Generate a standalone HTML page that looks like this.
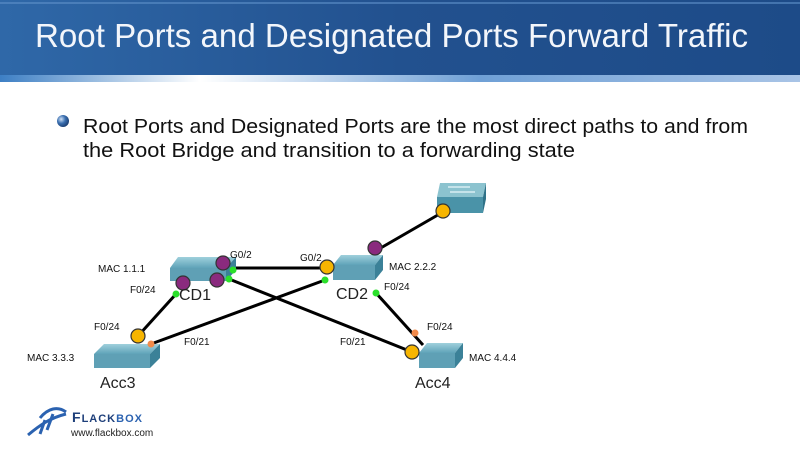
<!DOCTYPE html>
<html><head><meta charset="utf-8"><style>
html,body{margin:0;padding:0;background:#fff;}
svg{display:block;}
</style></head><body>
<svg width="800" height="450" viewBox="0 0 800 450" xmlns="http://www.w3.org/2000/svg" font-family="Liberation Sans, sans-serif">
<defs>
<linearGradient id="hdr" x1="0" y1="0" x2="1" y2="0">
<stop offset="0" stop-color="#2f68a8"/><stop offset="0.5" stop-color="#22518f"/><stop offset="1" stop-color="#1d4b88"/>
</linearGradient>
<linearGradient id="band" x1="0" y1="0" x2="1" y2="0">
<stop offset="0" stop-color="#3d7fc4"/><stop offset="0.25" stop-color="#ffffff"/><stop offset="0.6" stop-color="#6fa0d6"/><stop offset="1" stop-color="#a9c4e6"/>
</linearGradient>
<radialGradient id="bul" cx="0.35" cy="0.35" r="0.7"><stop offset="0" stop-color="#cfe0f5"/><stop offset="0.5" stop-color="#3a6fb0"/><stop offset="1" stop-color="#1b3d70"/></radialGradient>
<linearGradient id="sw" x1="0" y1="0" x2="0" y2="1"><stop offset="0" stop-color="#9fd0dc"/><stop offset="1" stop-color="#5fa3b8"/></linearGradient>
</defs>
<rect x="0" y="0" width="800" height="78" fill="url(#hdr)"/>
<rect x="0" y="2" width="800" height="2" fill="#5e8fc8" opacity="0.6"/>
<rect x="0" y="75" width="800" height="7" fill="url(#band)"/>
<text x="35" y="47" font-size="33" fill="#f3f6fb" textLength="713" lengthAdjust="spacingAndGlyphs">Root Ports and Designated Ports Forward Traffic</text>

<circle cx="63" cy="121" r="6" fill="url(#bul)"/>
<text x="83" y="133" font-size="20" fill="#111" textLength="665" lengthAdjust="spacingAndGlyphs">Root Ports and Designated Ports are the most direct paths to and from</text>
<text x="83" y="157" font-size="20" fill="#111" textLength="492" lengthAdjust="spacingAndGlyphs">the Root Bridge and transition to a forwarding state</text>

<g stroke="#000" stroke-width="3" fill="none">
<line x1="443" y1="212" x2="372" y2="253"/>
<line x1="233" y1="268" x2="327" y2="268"/>
<line x1="229" y1="279" x2="412" y2="352"/>
<line x1="325" y1="280" x2="151" y2="344"/>
<line x1="176" y1="294" x2="138" y2="336"/>
<line x1="376" y1="293" x2="423" y2="345"/>
</g>

<g>
<polygon points="440,183 486,183 483,197 437,197" fill="#8cc3cf"/>
<polygon points="437,197 483,197 483,213 437,213" fill="#4a93a8"/>
<polygon points="483,197 486,183 486,199 483,213" fill="#2f7288"/>
<g stroke="#d8eef3" stroke-width="1.5"><line x1="448" y1="187" x2="470" y2="187"/><line x1="450" y1="192" x2="475" y2="192"/></g>

<polygon points="178,257 236,257 226,268 170,268" fill="url(#sw)"/>
<polygon points="170,268 226,268 226,281 170,281" fill="#5fa0b5"/>
<polygon points="226,268 236,257 236,270 226,281" fill="#3b8198"/>

<polygon points="341,255 383,255 375,265 333,265" fill="url(#sw)"/>
<polygon points="333,265 375,265 375,280 333,280" fill="#5fa0b5"/>
<polygon points="375,265 383,255 383,270 375,280" fill="#3b8198"/>

<polygon points="104,344 160,344 150,354 94,354" fill="url(#sw)"/>
<polygon points="94,354 150,354 150,368 94,368" fill="#5fa0b5"/>
<polygon points="150,354 160,344 160,358 150,368" fill="#3b8198"/>

<polygon points="427,343 463,343 455,353 419,353" fill="url(#sw)"/>
<polygon points="419,353 455,353 455,368 419,368" fill="#5fa0b5"/>
<polygon points="455,353 463,343 463,358 455,368" fill="#3b8198"/>
</g>

<g fill="#2be02b">
<circle cx="233" cy="270" r="3.5"/><circle cx="229" cy="279" r="3.5"/><circle cx="176" cy="294" r="3.5"/>
<circle cx="325" cy="280" r="3.5"/><circle cx="376" cy="293" r="3.5"/>
</g>
<g fill="#f28a4a"><circle cx="151" cy="344" r="3.5"/><circle cx="415" cy="333" r="3.5"/></g>
<g fill="#f7b500" stroke="#333" stroke-width="1.2">
<circle cx="443" cy="211" r="7"/><circle cx="327" cy="267" r="7"/><circle cx="138" cy="336" r="7"/><circle cx="412" cy="352" r="7"/>
</g>
<g fill="#8a2a7e" stroke="#333" stroke-width="1.2">
<circle cx="375" cy="248" r="7"/><circle cx="223" cy="263" r="7"/><circle cx="217" cy="280" r="7"/><circle cx="183" cy="283" r="7"/>
</g>

<g font-size="10" fill="#111">
<text x="98" y="272">MAC 1.1.1</text>
<text x="130" y="293">F0/24</text>
<text x="230" y="258">G0/2</text>
<text x="300" y="261">G0/2</text>
<text x="389" y="270">MAC 2.2.2</text>
<text x="384" y="290">F0/24</text>
<text x="94" y="330">F0/24</text>
<text x="184" y="345">F0/21</text>
<text x="340" y="345">F0/21</text>
<text x="427" y="330">F0/24</text>
<text x="27" y="361">MAC 3.3.3</text>
<text x="469" y="361">MAC 4.4.4</text>
</g>
<g font-size="16" fill="#222">
<text x="179" y="300">CD1</text>
<text x="336" y="299">CD2</text>
<text x="100" y="388">Acc3</text>
<text x="415" y="388">Acc4</text>
</g>

<g fill="none" stroke="#2b62b0" stroke-width="3">
<path d="M28,435 C40,425 50,418 66,414"/>
<path d="M40,418 C48,408 58,406 66,412"/>
<path d="M45,420 L40,434"/><path d="M53,414 L47,430"/>
</g>
<text x="72" y="422" font-size="14" fill="#1e3f7a" font-weight="bold" letter-spacing="1">F<tspan font-size="11">LACK</tspan><tspan fill="#2b62b0" font-size="11">BOX</tspan></text>
<text x="71" y="436" font-size="10" fill="#222">www.flackbox.com</text>
</svg>
</body></html>
